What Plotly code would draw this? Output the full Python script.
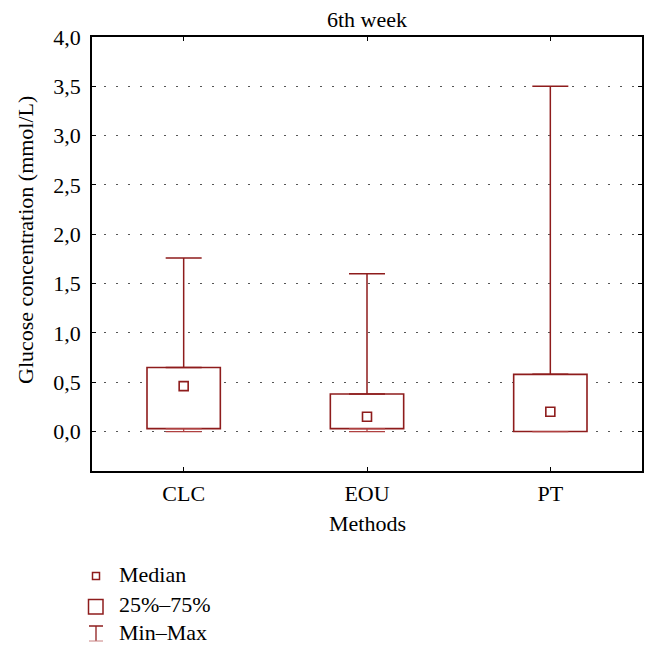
import plotly.graph_objects as go

# ---- data ----
methods = ["CLC", "EOU", "PT"]
q1_vals = [0.03, 0.03, 0.0]
median_vals = [0.46, 0.15, 0.20]
q3_vals = [0.65, 0.38, 0.58]
min_vals = [0.0, 0.0, 0.0]
max_vals = [1.76, 1.60, 3.50]
y_ticks = [0, 0.5, 1.0, 1.5, 2.0, 2.5, 3.0, 3.5, 4.0]
legend_labels = ["Median", "25%–75%", "Min–Max"]

RED = "#8E1C1C"
FONT = "Liberation Serif"
FS = 22

fig = go.Figure()

# IQR boxes
fig.add_trace(go.Bar(
    x=methods,
    y=[b - a for a, b in zip(q1_vals, q3_vals)],
    base=q1_vals,
    width=0.4,
    marker=dict(color="white", line=dict(color=RED, width=1.6)),
    hoverinfo="skip",
))

# upper whiskers
fig.add_trace(go.Scatter(
    x=methods, y=q3_vals, mode="markers",
    marker=dict(size=1, color="rgba(0,0,0,0)"),
    error_y=dict(type="data", symmetric=False,
                 array=[mx - q for mx, q in zip(max_vals, q3_vals)],
                 arrayminus=[0] * len(methods),
                 color=RED, thickness=1.5, width=18),
    hoverinfo="skip",
))
# lower whiskers
fig.add_trace(go.Scatter(
    x=methods, y=q1_vals, mode="markers",
    marker=dict(size=1, color="rgba(0,0,0,0)"),
    error_y=dict(type="data", symmetric=False,
                 array=[0] * len(methods),
                 arrayminus=[q - mn for q, mn in zip(q1_vals, min_vals)],
                 color="#B04040", thickness=1.2, width=18),
    hoverinfo="skip",
))
# medians
fig.add_trace(go.Scatter(
    x=methods, y=median_vals, mode="markers",
    marker=dict(symbol="square-open", size=9, color=RED, line=dict(width=1.6, color=RED)),
    hoverinfo="skip",
))

# page has an 8px body margin; target positions are screen pixels
OFF = 8
W, H = 657 - OFF, 656 - OFF
# plot area on screen: x 92..642, y 37..471
SL, SR, ST, SB = 92, 642, 37, 471
L, T = SL - OFF, ST - OFF
R, B = W - (SR - OFF), H - (SB - OFF)
pw, ph = W - L - R, H - T - B


def px(x):
    return (x - SL) / pw


def py(y):
    return (SB - y) / ph


shapes = [
    # legend: median square
    dict(type="rect", xref="paper", yref="paper",
         x0=px(92.5), x1=px(99.5), y0=py(572.5), y1=py(579.5),
         line=dict(color=RED, width=1.5), fillcolor="white"),
    # legend: box
    dict(type="rect", xref="paper", yref="paper",
         x0=px(88.5), x1=px(103), y0=py(599.5), y1=py(614),
         line=dict(color=RED, width=1.5), fillcolor="white"),
    # legend: T
    dict(type="line", xref="paper", yref="paper",
         x0=px(96), x1=px(96), y0=py(626), y1=py(641),
         line=dict(color=RED, width=1.3)),
    dict(type="line", xref="paper", yref="paper",
         x0=px(89), x1=px(103), y0=py(626), y1=py(626),
         line=dict(color=RED, width=1.5)),
    dict(type="line", xref="paper", yref="paper",
         x0=px(89), x1=px(103), y0=py(641), y1=py(641),
         line=dict(color="#C88080", width=1)),
]

annotations = [
    dict(text=lbl, xref="paper", yref="paper", x=px(117), y=py(yc),
         xanchor="left", yanchor="middle", showarrow=False,
         font=dict(family=FONT, size=FS, color="black"))
    for lbl, yc in zip(legend_labels, [574, 604, 632])
]
annotations.append(dict(
    text="Glucose concentration (mmol/L)", xref="paper", yref="paper",
    x=px(25), y=py(240), textangle=-90, xanchor="center", yanchor="middle",
    showarrow=False, font=dict(family=FONT, size=FS, color="black")))
annotations.append(dict(
    text="6th week", xref="paper", yref="paper", x=0.5, y=py(19),
    xanchor="center", yanchor="middle", showarrow=False,
    font=dict(family=FONT, size=FS, color="black")))
annotations.append(dict(
    text="Methods", xref="paper", yref="paper", x=0.5, y=py(523),
    xanchor="center", yanchor="middle", showarrow=False,
    font=dict(family=FONT, size=FS, color="black")))

fig.update_layout(
    width=W, height=H,
    margin=dict(l=L, r=R, t=T, b=B),
    paper_bgcolor="white", plot_bgcolor="white",
    showlegend=False,
    separators=",.",
    font=dict(family=FONT, size=FS, color="black"),
    shapes=shapes,
    annotations=annotations,
    xaxis=dict(
        type="category", range=[-0.5, 2.5],
        showline=True, linecolor="black", linewidth=1.5, mirror="ticks",
        ticks="inside", ticklen=4, tickcolor="black", tickwidth=1,
        showgrid=False, zeroline=False,
        tickfont=dict(family=FONT, size=FS, color="black"),
        ticklabelstandoff=2,
    ),
    yaxis=dict(
        range=[-0.4, 4.0],
        tickvals=y_ticks, tickformat=".1f",
        showline=True, linecolor="black", linewidth=1.5, mirror="ticks",
        ticks="inside", ticklen=4, tickcolor="black", tickwidth=1,
        showgrid=True, gridcolor="#555555", gridwidth=1.3, griddash="1.5px,10.5px",
        zeroline=False,
        tickfont=dict(family=FONT, size=FS, color="black"),
        ticklabelstandoff=5,
    ),
)

fig.write_html("out.html")
